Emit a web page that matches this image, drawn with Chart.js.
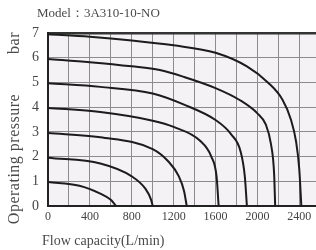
<!DOCTYPE html>
<html>
<head>
<meta charset="utf-8">
<script src="https://cdn.jsdelivr.net/npm/chart.js@4/dist/chart.umd.min.js"></script>
<style>
  html, body { margin: 0; padding: 0; background: #fff; overflow: hidden; }
  canvas { display: block; }
</style>
</head>
<body>
<canvas id="pump" width="316" height="250"></canvas>
<script>
// flow in L/min, pressure in bar, one curve per inlet pressure
var flow1 = [0, 300, 500, 600, 650];
var bar1  = [0.97, 0.82, 0.5, 0.25, 0];
var flow2 = [0, 500, 800, 930, 985, 1000];
var bar2  = [1.95, 1.72, 1.2, 0.7, 0.25, 0];
var flow3 = [0, 500, 1000, 1150, 1250, 1300, 1325];
var bar3  = [2.95, 2.78, 2.3, 1.8, 1.2, 0.6, 0];
var flow4 = [0, 500, 1000, 1200, 1450, 1560, 1610, 1630];
var bar4  = [3.97, 3.8, 3.45, 3.2, 2.65, 2.0, 1.2, 0];
var flow5 = [0, 500, 1000, 1300, 1600, 1750, 1840, 1880, 1900];
var bar5  = [4.97, 4.82, 4.55, 4.1, 3.48, 2.9, 2.2, 1.2, 0];
var flow6 = [0, 400, 800, 1067, 1300, 1600, 1830, 2000, 2080, 2130, 2160, 2170];
var bar6  = [5.95, 5.82, 5.65, 5.5, 5.22, 4.77, 4.29, 3.75, 3.3, 2.5, 1.3, 0];
var flow7 = [0, 400, 800, 1200, 1600, 1900, 2100, 2240, 2320, 2370, 2400, 2420];
var bar7  = [6.95, 6.85, 6.7, 6.5, 6.2, 5.65, 5.0, 4.3, 3.5, 2.6, 1.5, 0];

var yTicks = [0, 1, 2, 3, 4, 5, 6, 7];
var xTicks = [0, 400, 800, 1200, 1600, 2000, 2400];

var serif = '"Liberation Serif", "DejaVu Serif", serif';

function toPoints(xs, ys) {
    return xs.map(function(x, i) { return { x: x, y: ys[i] }; });
}

var curves = [
    [flow1, bar1], [flow2, bar2], [flow3, bar3], [flow4, bar4],
    [flow5, bar5], [flow6, bar6], [flow7, bar7]
];

var texts = {
    id: 'texts',
    beforeDraw: function(chart) {
        var a = chart.chartArea, c = chart.ctx;
        c.save();
        c.fillStyle = '#f4f2f4';
        c.fillRect(a.left, a.top, a.right - a.left, a.bottom - a.top);
        c.restore();
    },
    afterDraw: function(chart) {
        var c = chart.ctx;
        c.save();
        c.fillStyle = '#4a4a4a';
        c.textBaseline = 'middle';
        c.textAlign = 'left';
        c.font = '13px ' + serif;
        c.fillText('Model\uFF1A3A310-10-NO', 37, 14);
        c.font = '14px ' + serif;
        c.fillText('Flow capacity(L/min)', 42, 241);
        c.translate(15, 0);
        c.rotate(-Math.PI / 2);
        c.textAlign = 'center';
        c.font = '16px ' + serif;
        c.letterSpacing = '0.5px';
        c.fillText('bar', -43, 0);
        c.fillText('Operating pressure', -159, 0);
        c.restore();
    }
};

new Chart(document.getElementById('pump'), {
    type: 'scatter',
    data: {
        datasets: curves.map(function(cv) {
            return {
                data: toPoints(cv[0], cv[1]),
                showLine: true,
                borderColor: '#1c1c1c',
                borderWidth: 2,
                pointRadius: 0,
                cubicInterpolationMode: 'monotone'
            };
        })
    },
    options: {
        responsive: false,
        animation: false,
        layout: { padding: { top: 33, right: 0, bottom: 24, left: 0 } },
        plugins: { legend: { display: false }, tooltip: { enabled: false } },
        scales: {
            x: {
                type: 'linear',
                min: 0,
                max: 2560,
                afterFit: function(s) { s.height = 20; },
                afterBuildTicks: function(s) {
                    var t = [];
                    for (var v = 0; v <= 2400; v += 200) t.push({ value: v });
                    s.ticks = t;
                },
                border: { color: '#222', width: 2 },
                grid: { color: '#8c8c8c', lineWidth: 1, drawTicks: false },
                ticks: {
                    maxRotation: 0,
                    autoSkip: false,
                    padding: 4,
                    color: '#444',
                    font: { family: serif, size: 12 },
                    callback: function(v) { return xTicks.indexOf(Math.round(v)) >= 0 ? String(Math.round(v)) : ''; }
                }
            },
            y: {
                min: yTicks[0],
                max: yTicks[yTicks.length - 1],
                afterFit: function(s) { s.width = 48; },
                border: { color: '#222', width: 2 },
                grid: {
                    drawTicks: false,
                    color: function(ctx) { return ctx.tick && ctx.tick.value === 7 ? '#333' : '#8c8c8c'; },
                    lineWidth: function(ctx) { return ctx.tick && ctx.tick.value === 7 ? 2.5 : 1; }
                },
                ticks: {
                    stepSize: 1,
                    padding: 9,
                    color: '#444',
                    font: { family: serif, size: 14 }
                }
            }
        }
    },
    plugins: [texts]
});
</script>
</body>
</html>
